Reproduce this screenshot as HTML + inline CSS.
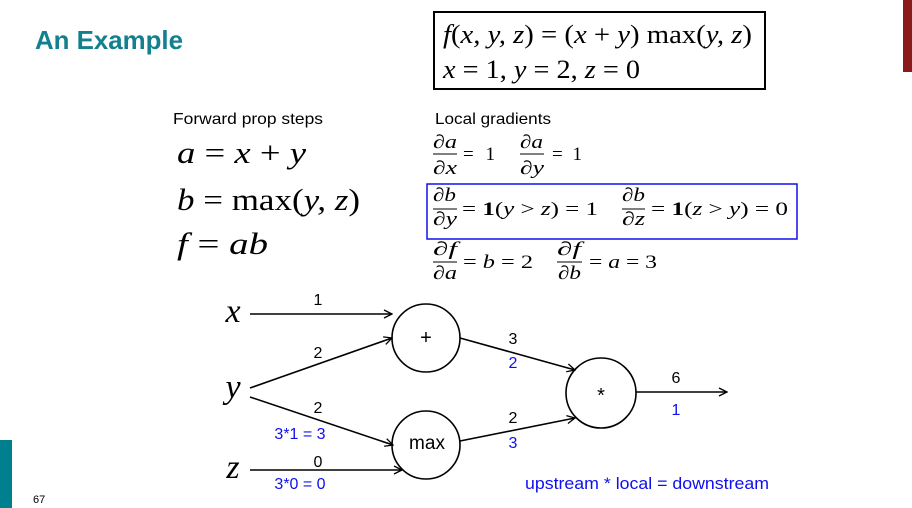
<!DOCTYPE html>
<html><head><meta charset="utf-8"><style>
html,body{margin:0;padding:0;background:#fff;}
svg{display:block;}
.s{font-family:"Liberation Serif",serif;}
.i{font-family:"Liberation Serif",serif;font-style:italic;}
.c{font-family:"Liberation Sans",sans-serif;}
</style></head><body>
<svg width="912" height="508" viewBox="0 0 912 508" xmlns="http://www.w3.org/2000/svg">
<defs>
<marker id="ah" markerWidth="10" markerHeight="10" refX="9" refY="5" orient="auto" markerUnits="userSpaceOnUse">
<path d="M1,1 L9,5 L1,9" fill="none" stroke="#000" stroke-width="1.3"/>
</marker>
</defs>
<rect x="903" y="0" width="9" height="72" fill="#8b1a1a"/>
<rect x="0" y="440" width="12" height="68" fill="#00808f"/>
<text x="35" y="49" class="c" font-size="26" font-weight="bold" fill="#13808f" textLength="148" lengthAdjust="spacingAndGlyphs">An Example</text>
<text x="33" y="503" class="c" font-size="11" fill="#000">67</text>

<rect x="434" y="12" width="331" height="77" fill="none" stroke="#000" stroke-width="2"/>
<text x="443" y="43" class="s" font-size="26" textLength="309" lengthAdjust="spacingAndGlyphs"><tspan class="i">f</tspan>(<tspan class="i">x, y, z</tspan>) = (<tspan class="i">x</tspan> + <tspan class="i">y</tspan>) max(<tspan class="i">y, z</tspan>)</text>
<text x="443" y="78" class="s" font-size="26" textLength="197" lengthAdjust="spacingAndGlyphs"><tspan class="i">x</tspan> = 1, <tspan class="i">y</tspan> = 2, <tspan class="i">z</tspan> = 0</text>

<text x="173" y="124" class="c" font-size="16" textLength="150" lengthAdjust="spacingAndGlyphs">Forward prop steps</text>
<text x="177" y="163" class="s" font-size="31" textLength="129" lengthAdjust="spacingAndGlyphs"><tspan class="i">a</tspan> = <tspan class="i">x</tspan> + <tspan class="i">y</tspan></text>
<text x="177" y="210" class="s" font-size="31" textLength="183" lengthAdjust="spacingAndGlyphs"><tspan class="i">b</tspan> = max(<tspan class="i">y, z</tspan>)</text>
<text x="177" y="254" class="s" font-size="31" textLength="91" lengthAdjust="spacingAndGlyphs"><tspan class="i">f</tspan> = <tspan class="i">ab</tspan></text>

<text x="435" y="124" class="c" font-size="16" textLength="116" lengthAdjust="spacingAndGlyphs">Local gradients</text>
<g class="s" font-size="19">
<text x="433" y="148" class="i" textLength="24" lengthAdjust="spacingAndGlyphs">∂a</text>
<line x1="433" y1="154" x2="457" y2="154" stroke="#000"/>
<text x="433" y="174" class="i" textLength="24" lengthAdjust="spacingAndGlyphs">∂x</text>
<text x="463" y="160" textLength="32">= 1</text>
<text x="520" y="148" class="i" textLength="23" lengthAdjust="spacingAndGlyphs">∂a</text>
<line x1="520" y1="154" x2="544" y2="154" stroke="#000"/>
<text x="520" y="174" class="i" textLength="24" lengthAdjust="spacingAndGlyphs">∂y</text>
<text x="552" y="160" textLength="30">= 1</text>
<rect x="427" y="184" width="370" height="55" fill="none" stroke="#1010ee" stroke-width="1.5"/>
<text x="433" y="201" class="i" textLength="23" lengthAdjust="spacingAndGlyphs">∂b</text>
<line x1="433" y1="209" x2="457" y2="209" stroke="#000"/>
<text x="433" y="225" class="i" textLength="24" lengthAdjust="spacingAndGlyphs">∂y</text>
<text x="462" y="215" textLength="136" lengthAdjust="spacingAndGlyphs">= <tspan font-weight="bold">1</tspan>(<tspan class="i">y</tspan> &gt; <tspan class="i">z</tspan>) = 1</text>
<text x="622" y="201" class="i" textLength="23" lengthAdjust="spacingAndGlyphs">∂b</text>
<line x1="622" y1="209" x2="645" y2="209" stroke="#000"/>
<text x="622" y="225" class="i" textLength="23" lengthAdjust="spacingAndGlyphs">∂z</text>
<text x="651" y="215" textLength="137" lengthAdjust="spacingAndGlyphs">= <tspan font-weight="bold">1</tspan>(<tspan class="i">z</tspan> &gt; <tspan class="i">y</tspan>) = 0</text>
<text x="433" y="255" class="i" textLength="24" lengthAdjust="spacingAndGlyphs">∂f</text>
<line x1="433" y1="262" x2="457" y2="262" stroke="#000"/>
<text x="433" y="279" class="i" textLength="24" lengthAdjust="spacingAndGlyphs">∂a</text>
<text x="463" y="268" textLength="70" lengthAdjust="spacingAndGlyphs">= <tspan class="i">b</tspan> = 2</text>
<text x="557" y="255" class="i" textLength="24" lengthAdjust="spacingAndGlyphs">∂f</text>
<line x1="557" y1="262" x2="582" y2="262" stroke="#000"/>
<text x="558" y="279" class="i" textLength="23" lengthAdjust="spacingAndGlyphs">∂b</text>
<text x="589" y="268" textLength="68" lengthAdjust="spacingAndGlyphs">= <tspan class="i">a</tspan> = 3</text>
</g>

<g stroke="#000" stroke-width="1.6" fill="none">
<circle cx="426" cy="338" r="34"/>
<circle cx="426" cy="445" r="34"/>
<circle cx="601" cy="393" r="35"/>
<line x1="250" y1="314" x2="392" y2="314" marker-end="url(#ah)"/>
<line x1="250" y1="388" x2="392" y2="338" marker-end="url(#ah)"/>
<line x1="250" y1="397" x2="393" y2="445" marker-end="url(#ah)"/>
<line x1="250" y1="470" x2="402" y2="470" marker-end="url(#ah)"/>
<line x1="460" y1="338" x2="575" y2="370" marker-end="url(#ah)"/>
<line x1="460" y1="441" x2="575" y2="418" marker-end="url(#ah)"/>
<line x1="636" y1="392" x2="727" y2="392" marker-end="url(#ah)"/>
</g>
<g class="i" font-size="34" text-anchor="middle">
<text x="233" y="322">x</text>
<text x="233" y="398">y</text>
<text x="233" y="478">z</text>
</g>
<g class="c" font-size="16" text-anchor="middle">
<text x="426" y="344" font-size="20">+</text>
<text x="427" y="449" font-size="19">max</text>
<text x="601" y="402" font-size="20">*</text>
<text x="318" y="305">1</text>
<text x="318" y="358">2</text>
<text x="318" y="413">2</text>
<text x="318" y="467">0</text>
<text x="513" y="344">3</text>
<text x="513" y="423">2</text>
<text x="676" y="383">6</text>
<g fill="#1010ee">
<text x="300" y="439">3*1 = 3</text>
<text x="300" y="489">3*0 = 0</text>
<text x="513" y="368">2</text>
<text x="513" y="448">3</text>
<text x="676" y="415">1</text>
</g>
</g>
<text x="525" y="489" class="c" font-size="16.5" fill="#1010ee" textLength="244" lengthAdjust="spacingAndGlyphs">upstream * local = downstream</text>
</svg>
</body></html>
